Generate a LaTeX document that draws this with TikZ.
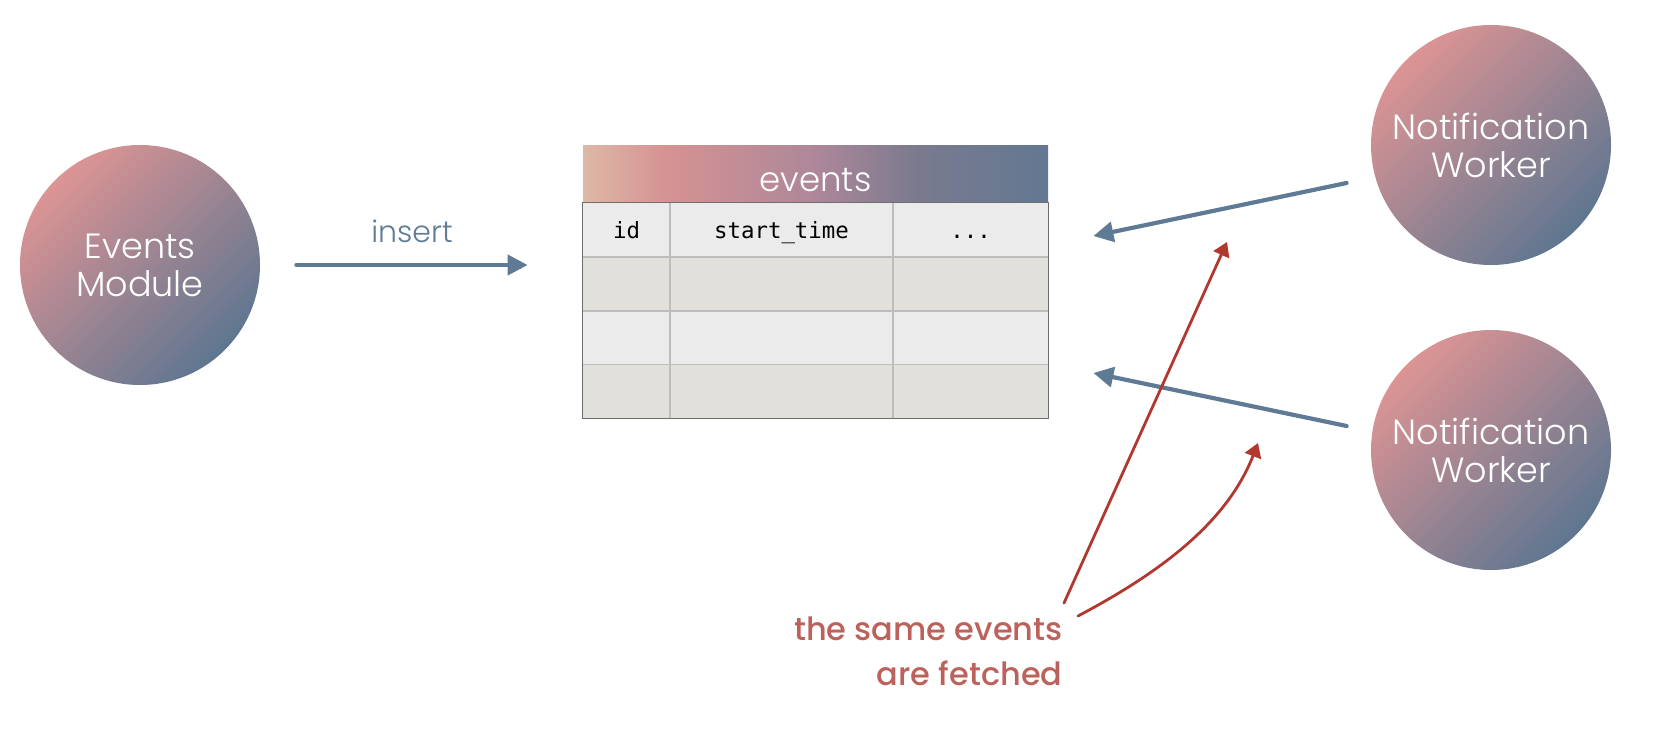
\documentclass[tikz,border=0pt]{standalone}
\usepackage{fontspec}
\usetikzlibrary{arrows.meta}
\IfFontExistsTF{Poppins Light}{\newfontfamily\lightfont{Poppins Light}}{\newfontfamily\lightfont{Poppins}}
\IfFontExistsTF{Poppins Medium}{\newfontfamily\medfont{Poppins Medium}}{\newfontfamily\medfont{Poppins}}
\newfontfamily\codefont{DejaVu Sans Mono}
\definecolor{pinkc}{HTML}{DC9494}
\definecolor{bluec}{HTML}{5E7690}
\definecolor{hA}{HTML}{DEB8A6}
\definecolor{hB}{HTML}{D59293}
\definecolor{hC}{HTML}{AD8799}
\definecolor{hD}{HTML}{7A7A8F}
\definecolor{hE}{HTML}{637891}
\definecolor{arrowblue}{HTML}{5E7A95}
\definecolor{arrowred}{HTML}{B0382F}
\definecolor{textred}{HTML}{BC625C}
\definecolor{textblue}{HTML}{5F7B96}
\definecolor{rowa}{HTML}{EBEBEB}
\definecolor{rowb}{HTML}{E1E0DB}
\definecolor{gridc}{HTML}{BDBDBD}
\definecolor{borderc}{HTML}{6E6E6E}
\pgfdeclarehorizontalshading{hdrshade}{100bp}{color(0bp)=(hA); color(25bp)=(hA); color(34bp)=(hB); color(50bp)=(hC); color(61bp)=(hD); color(75bp)=(hE); color(100bp)=(hE)}
\tikzset{
  worker/.style={circle, minimum size=120pt, inner sep=0pt, top color=pinkc, bottom color=bluec, shading angle=45, text=white, font=\lightfont\fontsize{17.5}{19}\selectfont, align=center},
  hdrbox/.style={rectangle, minimum width=232.5pt, minimum height=28.5pt, inner sep=0pt, shade, shading=hdrshade},
  hdrtext/.style={anchor=base, inner sep=0pt, text=white, font=\lightfont\fontsize{17}{19}\selectfont},
  tblbody/.style={rectangle, minimum width=232.5pt, minimum height=107.5pt, inner sep=0pt},
  cell/.style={anchor=base, inner sep=0pt, font=\codefont\fontsize{11.2}{13}\selectfont, text=black},
  grid line/.style={draw=gridc, line width=0.6pt},
  bluearr/.style={draw=arrowblue, line width=2.1pt, line cap=round, -{Triangle[length=10pt, width=10pt]}},
  redarr/.style={draw=arrowred, line width=1.4pt, line cap=round, -{Triangle[length=7pt, width=8.5pt]}},
  redlabel/.style={inner sep=0pt, align=right, text=textred, font=\medfont\fontsize{16}{22.5}\selectfont},
  inslabel/.style={inner sep=0pt, text=textblue, font=\lightfont\fontsize{15}{18}\selectfont},
}
\begin{document}
\begin{tikzpicture}[x=0.5pt, y=-0.5pt]
\useasboundingbox (0,0) rectangle (1654,742);

% circles
\node[worker] (em) at (140,265) {Events\\Module};
\node[worker] (nw1) at (1491,145) {Notification\\Worker};
\node[worker] (nw2) at (1491,450) {Notification\\Worker};

% table
\node[hdrbox] (hdr) at (815.5,174.5) {};
\node[hdrtext] (hdrlabel) at (815.5,192) {events};
\node[tblbody] (tbl) at (815.5,310.5) {};
\fill[rowa] (583,203) rectangle (1048,257);
\fill[rowb] (583,257) rectangle (1048,311);
\fill[rowa] (583,311) rectangle (1048,364.5);
\fill[rowb] (583,364.5) rectangle (1048,418);
\path[grid line] (583,257) -- (1048,257);
\path[grid line] (583,311) -- (1048,311);
\path[grid line] (583,364.5) -- (1048,364.5);
\path[grid line] (670,203) -- (670,418);
\path[grid line] (893,203) -- (893,418);
\draw[borderc, line width=0.8pt] (tbl.south west) rectangle (tbl.north east);
\node[cell] (cid) at (626.5,239) {id};
\node[cell] (cstart) at (781.5,239) {start\_time};
\node[cell] (cmore) at (970.5,239) {...};

% insert arrow
\draw[bluearr] ([xshift=18pt]em.east) -- ([xshift=-27.5pt]tbl.west |- em.east)
  node[inslabel, midway, above=10pt] (ins) {insert};

% worker arrows
\draw[bluearr] ([shift={(-24,38)}]nw1.west) -- ([shift={(45,-74.5)}]tbl.east);
\draw[bluearr] ([shift={(-24,-24)}]nw2.west) -- ([shift={(45,62.5)}]tbl.east);

% red label and arrows
\node[redlabel, anchor=north east] (lbl) at (1063,616) {the same events\\are fetched};
\coordinate (tipA) at (1227,242);
\coordinate (tipB) at (1258,443);
\draw[redarr] ([shift={(1,-13)}]lbl.north east) -- (tipA);
\draw[redarr] ([shift={(15,0)}]lbl.north east) .. controls (1165,570) and (1228,520) .. (tipB);
\end{tikzpicture}
\end{document}
